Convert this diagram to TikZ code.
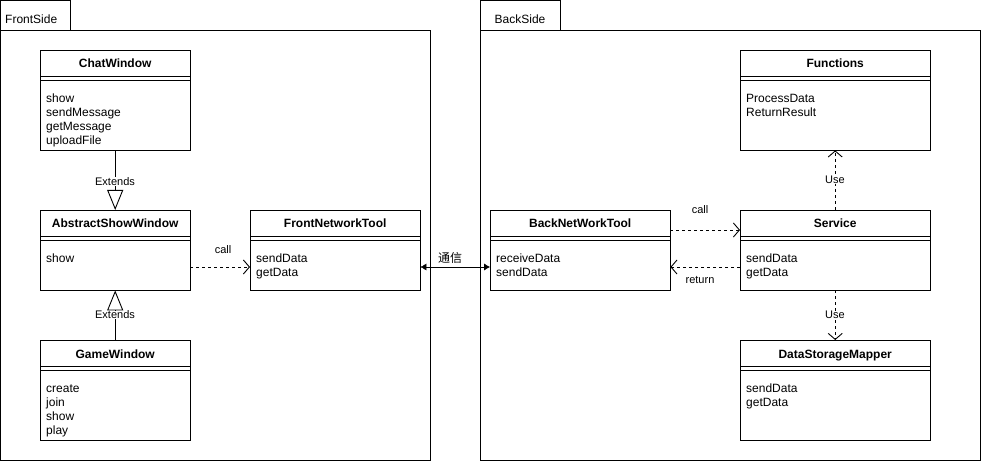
\documentclass[tikz,border=0pt]{standalone}
\usepackage{fontspec}
\setmainfont{Liberation Sans}
\newfontfamily\cjkfont{Noto Sans CJK SC}
\usetikzlibrary{arrows.meta}
\tikzset{
  x=1pt, y=-1pt,
  line width=0.9pt,
  clsbox/.style={draw, fill=white, inner sep=0pt},
  clstitle/.style={inner sep=0pt, font=\bfseries\fontsize{12}{14}\selectfont},
  clsbody/.style={inner sep=0pt, align=left, font=\fontsize{12}{14}\selectfont},
  pkg/.style={draw, inner sep=0pt},
  pkglabel/.style={inner sep=0pt, font=\fontsize{12}{14}\selectfont},
  elabel/.style={inner sep=1pt, font=\fontsize{11}{13}\selectfont},
  wlabel/.style={inner sep=0pt, fill=white, font=\fontsize{11}{13}\selectfont},
  dep/.style={dashed, dash pattern=on 3pt off 3pt, -{Straight Barb[length=6pt,width=14pt,line width=0.9pt]}},
  ext/.style={-{Triangle[open,length=20pt,width=16pt,line width=0.9pt]}},
  assoc/.style={{Latex[length=6pt,width=7pt]}-{Latex[length=6pt,width=7pt]}},
}
\newcommand\umlcls[7]{%
  \node[clsbox, minimum width=#4pt, minimum height=#5pt, anchor=north west] (#1) at (#2,#3) {};
  \node[clstitle, anchor=base] (#1-t) at ([yshift=-18pt]#1.north) {#6};
  \draw ([yshift=-26pt]#1.north west) -- ([yshift=-26pt]#1.north east);
  \draw ([yshift=-30pt]#1.north west) -- ([yshift=-30pt]#1.north east);
  \node[clsbody, anchor=north west] (#1-m) at ([xshift=6pt,yshift=-42.2pt]#1.north west) {\strut#7};
}
\begin{document}
\begin{tikzpicture}
\useasboundingbox (0,0) rectangle (981,462);
\fill[white] (0,0) rectangle (981,462);
% packages
\node[pkg, minimum width=70pt, minimum height=30pt, anchor=north west] (fronttab) at (0,0) {};
\node[pkg, minimum width=430pt, minimum height=430pt, anchor=north west] (front) at (0,30) {};
\node[pkglabel, anchor=base west] (frontlbl) at (5,24) {FrontSide};
\node[pkg, minimum width=80pt, minimum height=30pt, anchor=north west] (backtab) at (480,0) {};
\node[pkg, minimum width=500pt, minimum height=430pt, anchor=north west] (back) at (480,30) {};
\node[pkglabel, anchor=base] (backlbl) at (520,24) {BackSide};
% classes
\umlcls{chat}{40}{50}{150}{100}{ChatWindow}{show\\sendMessage\\getMessage\\uploadFile}
\umlcls{abs}{40}{210}{150}{80}{AbstractShowWindow}{show}
\umlcls{game}{40}{340}{150}{100}{GameWindow}{create\\join\\show\\play}
\umlcls{fnt}{250}{210}{170}{80}{FrontNetworkTool}{sendData\\getData}
\umlcls{bnt}{490}{210}{180}{80}{BackNetWorkTool}{receiveData\\sendData}
\umlcls{func}{740}{50}{190}{100}{Functions}{ProcessData\\ReturnResult}
\umlcls{serv}{740}{210}{190}{80}{Service}{sendData\\getData}
\umlcls{dsm}{740}{340}{190}{100}{DataStorageMapper}{sendData\\getData}
% connectors
\draw[ext] (chat.south) -- (abs.north);
\node[wlabel] (ext1) at (115,181.5) {Extends};
\draw[ext] (game.north) -- (abs.south);
\node[wlabel] (ext2) at (115,315) {Extends};
\draw[dep] ([yshift=-57pt]abs.north east) -- ([yshift=-57pt]fnt.north west);
\node[elabel] (call1) at (223,250) {call};
\draw[assoc] ([yshift=-57pt]fnt.north east) -- ([yshift=-57pt]bnt.north west);
\node[inner sep=0pt, font=\cjkfont\fontsize{12}{14}\selectfont] (tongxin) at (450,258) {通信};
\draw[dep] ([yshift=-20pt]bnt.north east) -- ([yshift=-20pt]serv.north west);
\node[elabel] (call2) at (700,210) {call};
\draw[dep] ([yshift=-57pt]serv.north west) -- ([yshift=-57pt]bnt.north east);
\node[elabel] (ret) at (700,280) {return};
\draw[dep] (serv.north) -- (func.south);
\node[wlabel] (use1) at (835,180) {Use};
\draw[dep] (serv.south) -- (dsm.north);
\node[wlabel] (use2) at (835,315) {Use};
\end{tikzpicture}
\end{document}
